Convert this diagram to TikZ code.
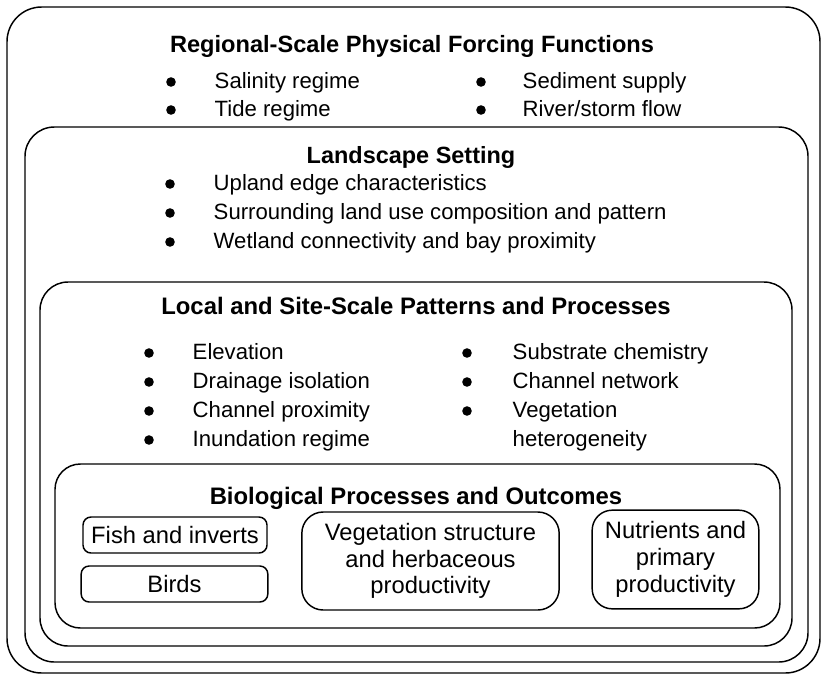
\documentclass[tikz,border=0pt]{standalone}
\usepackage{fontspec}
\setmainfont{Liberation Sans}
\begin{document}
\begin{tikzpicture}[x=0.75pt, y=-0.75pt, line width=1.1pt, font=\fontsize{16.6}{20}\selectfont]
                    \useasboundingbox (0,0) rectangle (823,675);
                    % nested frames
                    \draw [rounded corners=26pt] (7,7) rectangle (820,673);
                    \draw [rounded corners=22pt] (25,127) rectangle (808,662);
                    \draw [rounded corners=21pt] (40,282) rectangle (792,646);
                    \draw [rounded corners=19pt] (55,464) rectangle (780,628);
                    % regional scale
                    \node[anchor=base, inner sep=0, font=\fontsize{17.7}{21}\selectfont\bfseries] (regtitle) at (412,52) {Regional-Scale Physical Forcing Functions};
                    \filldraw [black] (171,82) circle (3pt);
                    \node[anchor=base west, inner sep=0] (salinity) at (214,88) {Salinity regime};
                    \filldraw [black] (171,110) circle (3pt);
                    \node[anchor=base west, inner sep=0] (tide) at (214,116) {Tide regime};
                    \filldraw [black] (481,82) circle (3pt);
                    \node[anchor=base west, inner sep=0] (sediment) at (522,88) {Sediment supply};
                    \filldraw [black] (481,110) circle (3pt);
                    \node[anchor=base west, inner sep=0] (river) at (522,116) {River/storm flow};
                    % landscape
                    \node[anchor=base, inner sep=0, font=\fontsize{17.6}{21}\selectfont\bfseries] (landtitle) at (411,163) {Landscape Setting};
                    \filldraw [black] (170,184) circle (3pt);
                    \node[anchor=base west, inner sep=0] (upland) at (213,190) {Upland edge characteristics};
                    \filldraw [black] (170,213) circle (3pt);
                    \node[anchor=base west, inner sep=0] (landuse) at (213,219) {Surrounding land use composition and pattern};
                    \filldraw [black] (170,242) circle (3pt);
                    \node[anchor=base west, inner sep=0] (wetland) at (213,248) {Wetland connectivity and bay proximity};
                    % local and site scale
                    \node[anchor=base, inner sep=0, font=\fontsize{17.9}{21}\selectfont\bfseries] (localtitle) at (416,314) {Local and Site-Scale Patterns and Processes};
                    \filldraw [black] (149,353) circle (3pt);
                    \node[anchor=base west, inner sep=0] (elev) at (192,359) {Elevation};
                    \filldraw [black] (149,382) circle (3pt);
                    \node[anchor=base west, inner sep=0] (drain) at (192,388) {Drainage isolation};
                    \filldraw [black] (149,411) circle (3pt);
                    \node[anchor=base west, inner sep=0] (chanprox) at (192,417) {Channel proximity};
                    \filldraw [black] (149,440) circle (3pt);
                    \node[anchor=base west, inner sep=0] (inund) at (192,446) {Inundation regime};
                    \filldraw [black] (467,353) circle (3pt);
                    \node[anchor=base west, inner sep=0] (substrate) at (512,359) {Substrate chemistry};
                    \filldraw [black] (467,382) circle (3pt);
                    \node[anchor=base west, inner sep=0] (channet) at (512,388) {Channel network};
                    \filldraw [black] (467,411) circle (3pt);
                    \node[anchor=base west, inner sep=0] (veghet) at (512,417) {Vegetation};
                    \node[anchor=base west, inner sep=0] (veghet2) at (512,446) {heterogeneity};
                    % biological
                    \node[anchor=base, inner sep=0, font=\fontsize{17.9}{21}\selectfont\bfseries] (biotitle) at (416,504) {Biological Processes and Outcomes};
                    \node[draw, rounded corners=6pt, minimum width=138pt, minimum height=27pt, inner sep=0, font=\fontsize{17.8}{20}\selectfont] (fish) at (175,535) {Fish and inverts};
                    \node[draw, rounded corners=6pt, minimum width=140pt, minimum height=27pt, inner sep=0, font=\fontsize{17.8}{20}\selectfont] (birds) at (174.5,584) {Birds};
                    \node[draw, rounded corners=16pt, minimum width=193pt, minimum height=73.5pt, align=center, inner sep=0, font=\fontsize{17.8}{20}\selectfont] (vegstruct) at (430.5,561) {Vegetation structure\\and herbaceous\\productivity};
                    \node[draw, rounded corners=15pt, minimum width=125pt, minimum height=74pt, align=center, inner sep=0, font=\fontsize{17.8}{20}\selectfont] (nutrients) at (675.5,559.5) {Nutrients and\\primary\\productivity};
                \end{tikzpicture}
\end{document}
